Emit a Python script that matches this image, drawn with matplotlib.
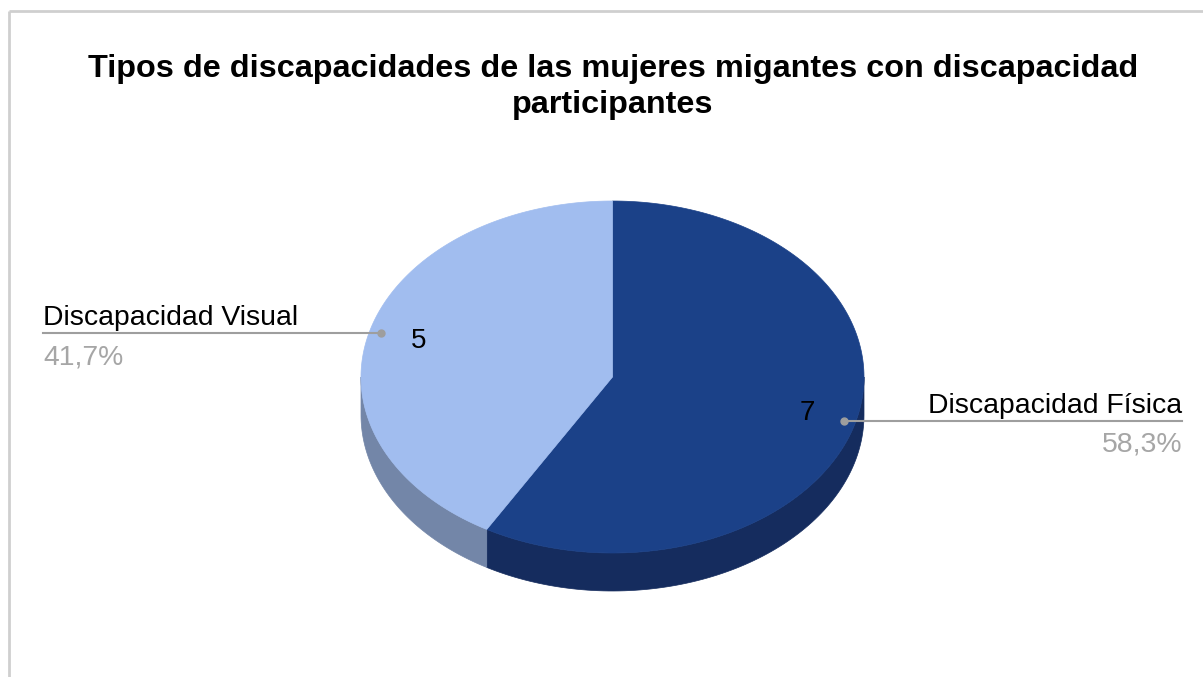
import numpy as np
import matplotlib.pyplot as plt
from matplotlib.patches import Polygon

plt.rcParams['font.family'] = ['Liberation Sans', 'DejaVu Sans']

title_lines = ["Tipos de discapacidades de las mujeres migantes con discapacidad",
               "participantes"]
categories = ["Discapacidad Física", "Discapacidad Visual"]
values = [7, 5]
top_colors = ["#1b4188", "#a1bdef"]
side_colors = ["#152c5e", "#7386a8"]

W, H = 1203, 677
fig = plt.figure(figsize=(W / 100, H / 100), dpi=100)
ax = fig.add_axes([0, 0, 1, 1])
ax.set_xlim(0, W)
ax.set_ylim(H, 0)
ax.axis('off')

# frame (only top and left visible)
ax.plot([9, W + 5], [11, 11], color='#cfcfcf', lw=2, solid_capstyle='butt')
ax.plot([9, 9], [11, H + 5], color='#cfcfcf', lw=2, solid_capstyle='butt')

ax.text(613, 77, title_lines[0], ha='center', va='baseline',
        fontsize=23.3, fontweight='bold')
ax.text(613, 113, title_lines[1], ha='center', va='baseline',
        fontsize=23.3, fontweight='bold')

cx, cy, rx, ry, depth = 612.5, 377, 251.5, 176, 38


def pt(t, k=1.0, dy=0):
    return cx + k * rx * np.cos(t), cy - k * ry * np.sin(t) + dy


total = sum(values)
angles = []
start = 90.0
for v in values:
    sweep = 360.0 * v / total
    angles.append((start - sweep, start))
    start -= sweep

# side walls (front half only: 180..360 deg)
for (a0, a1), c in zip(angles, side_colors):
    segs = []
    for off in (-360, 0, 360):
        s, e = max(a0 + off, 180), min(a1 + off, 360)
        if e > s:
            segs.append((s, e))
    for s, e in segs:
        t = np.radians(np.linspace(s, e, 100))
        xs, ys = pt(t)
        xb, yb = pt(t[::-1], dy=depth)
        poly = np.column_stack([np.r_[xs, xb], np.r_[ys, yb]])
        ax.add_patch(Polygon(poly, closed=True, fc=c, ec=c, lw=0.5))

# top faces
for (a0, a1), c in zip(angles, top_colors):
    t = np.radians(np.linspace(a0, a1, 200))
    xs, ys = pt(t)
    poly = np.column_stack([np.r_[cx, xs], np.r_[cy, ys]])
    ax.add_patch(Polygon(poly, closed=True, fc=c, ec=c, lw=0.5))

# labels
for (a0, a1), name, v in zip(angles, categories, values):
    mid = np.radians((a0 + a1) / 2)
    vx, vy = pt(mid, 0.8)
    ax.text(vx, vy, str(v), ha='center', va='center', fontsize=20)
    dx, dyy = pt(mid, 0.955)
    ax.plot(dx, dyy, 'o', color='#9e9e9e', ms=5)
    pct = f"{100 * v / total:.1f}%".replace('.', ',')
    if np.cos(mid) > 0:
        xe, ha = 1182, 'right'
    else:
        xe, ha = 43, 'left'
    ax.plot([dx, xe], [dyy, dyy], color='#9e9e9e', lw=1.5)
    ax.text(xe, dyy - 8, name, ha=ha, va='baseline', fontsize=20.4)
    ax.text(xe, dyy + 31, pct, ha=ha, va='baseline', fontsize=20.4, color='#a6a6a6')

fig.savefig('out.png', dpi=100)
